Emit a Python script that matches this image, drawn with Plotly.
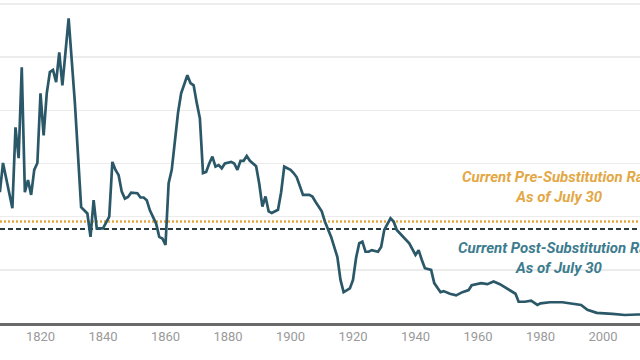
import plotly.graph_objects as go

years = [1806, 1807, 1808, 1811, 1812, 1813, 1814, 1815, 1816, 1817, 1818, 1819,
         1820, 1821, 1822, 1823, 1824, 1825, 1826, 1827, 1829, 1831, 1833, 1835,
         1836, 1837, 1838, 1840, 1842, 1843, 1844, 1845, 1846, 1847, 1848, 1849,
         1851, 1852, 1853, 1854, 1855, 1857, 1858, 1859, 1860, 1861, 1862, 1863,
         1864, 1865, 1867, 1868, 1869, 1870, 1871, 1872, 1873, 1874, 1875, 1876,
         1877, 1878, 1879, 1881, 1882, 1883, 1884, 1885, 1886, 1887, 1889, 1890,
         1891, 1892, 1893, 1894, 1896, 1897, 1898, 1900, 1901, 1902, 1904, 1906,
         1907, 1908, 1910, 1911, 1913, 1915, 1916, 1917, 1919, 1920, 1921, 1922,
         1923, 1924, 1925, 1926, 1928, 1929, 1930, 1932, 1933, 1934, 1937, 1938,
         1940, 1941, 1942, 1943, 1945, 1946, 1948, 1949, 1951, 1953, 1955, 1957,
         1958, 1961, 1963, 1965, 1967, 1970, 1972, 1973, 1975, 1977, 1979, 1980,
         1983, 1987, 1990, 1993, 1995, 1998, 2003, 2007, 2011, 2016]
rates = [31.9, 24.6, 30.1, 21.6, 36.8, 31.0, 48.1, 24.6, 26.9, 24.1, 28.8, 30.1,
         43.2, 35.3, 43.2, 47.2, 47.6, 45.3, 50.9, 44.7, 57.3, 41.4, 21.8, 20.6,
         16.2, 23.1, 17.8, 17.8, 20.0, 30.3, 28.8, 27.8, 24.7, 23.4, 23.7, 24.5,
         24.4, 23.6, 23.6, 23.1, 21.2, 18.7, 16.2, 15.9, 14.7, 26.3, 28.8, 33.8,
         39.5, 43.2, 46.6, 45.1, 44.7, 41.4, 38.5, 28.2, 28.4, 30.0, 31.3, 29.4,
         29.7, 29.1, 30.0, 30.3, 30.0, 28.8, 30.5, 30.5, 31.4, 30.5, 29.5, 26.2,
         21.9, 23.8, 21.0, 20.7, 21.3, 24.6, 29.4, 28.8, 28.2, 27.4, 24.1, 24.1,
         23.8, 22.8, 21.0, 19.1, 16.2, 12.4, 8.1, 5.8, 6.5, 8.1, 12.3, 15.0,
         15.3, 13.4, 13.4, 13.7, 13.4, 14.3, 17.5, 19.7, 19.1, 17.5, 15.7, 15.0,
         12.8, 13.7, 11.9, 10.3, 10.0, 7.5, 5.8, 6.0, 5.5, 5.2, 5.8, 6.2,
         7.1, 7.5, 7.3, 7.8, 7.3, 6.2, 5.5, 4.0, 4.0, 4.2, 3.4, 3.7,
         3.9, 3.9, 3.6, 3.4, 2.5, 1.9, 1.7, 1.5, 1.6, 1.6]

pre_substitution_rate = 19.1
post_substitution_rate = 17.7
tick_years = [1820, 1840, 1860, 1880, 1900, 1920, 1940, 1960, 1980, 2000]
grid_values = [10, 20, 30, 40, 50, 60]

LINE = "#2b5868"
ORANGE = "#e3a845"
TEAL = "#3c7c8e"

fig = go.Figure()
fig.add_trace(go.Scatter(x=years, y=rates, mode="lines",
                         line=dict(color=LINE, width=2.7), hoverinfo="skip",
                         showlegend=False))

fig.add_shape(type="line", xref="paper", x0=0, x1=1, yref="y",
              y0=pre_substitution_rate, y1=pre_substitution_rate,
              line=dict(color=ORANGE, width=2.5, dash="2px,2px"), layer="below")
fig.add_shape(type="line", xref="paper", x0=0, x1=1, yref="y",
              y0=post_substitution_rate, y1=post_substitution_rate,
              line=dict(color="#2a3b40", width=2, dash="5px,3px"), layer="below")

fig.add_annotation(xref="paper", x=0.873, yref="y", y=25.5,
                   text="Current Pre-Substitution Rate<br>As of July 30",
                   showarrow=False, xanchor="center", yanchor="middle", align="center",
                   font=dict(family="Roboto", size=15, color=ORANGE,
                             weight="bold", style="italic"))
fig.add_annotation(xref="paper", x=0.873, yref="y", y=12.3,
                   text="Current Post-Substitution Rate<br>As of July 30",
                   showarrow=False, xanchor="center", yanchor="middle", align="center",
                   font=dict(family="Roboto", size=15, color=TEAL,
                             weight="bold", style="italic"))

fig.update_layout(
    width=640, height=360, autosize=False,
    margin=dict(l=0, r=0, t=0, b=37, pad=0),
    paper_bgcolor="white", plot_bgcolor="white",
    font=dict(family="Roboto"),
    xaxis=dict(range=[1807.04, 2011.84], showgrid=False, zeroline=False,
               showline=True, linecolor="#6a6a6a", linewidth=2.5,
               tickmode="array", tickvals=tick_years,
               ticktext=[str(t) for t in tick_years], ticks="",
               tickfont=dict(family="Roboto", size=13, color="#9a9a9a")),
    yaxis=dict(range=[0, 60.75], showgrid=True, gridcolor="#ececec", gridwidth=1.6,
               zeroline=False, showticklabels=False, tickmode="array",
               tickvals=grid_values, showline=False),
)

fig.write_html("out.html", config={"displayModeBar": False, "staticPlot": True},
               post_script="document.body.style.margin='0';document.body.style.overflow='hidden';")
